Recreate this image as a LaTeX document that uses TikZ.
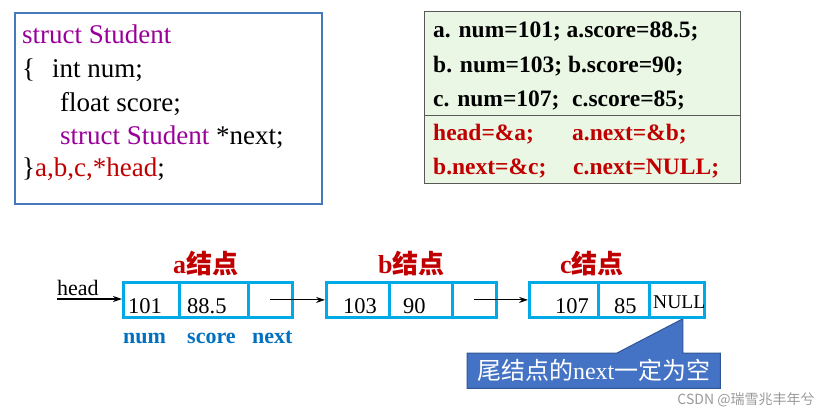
\documentclass[tikz,border=0pt]{standalone}
\usepackage{fontspec}
\setmainfont{Liberation Serif}
\newfontfamily\cjk{Noto Sans CJK SC}
\usetikzlibrary{backgrounds,arrows.meta}
\newcommand\px[1]{\fontsize{#1pt}{#1pt}\selectfont}
\definecolor{purp}{RGB}{153,0,153}
\definecolor{dred}{RGB}{192,0,0}
\definecolor{cellc}{RGB}{0,170,230}
\definecolor{lblue}{RGB}{0,112,192}
\definecolor{gfill}{RGB}{234,247,228}
\definecolor{boxblue}{RGB}{70,120,190}
\definecolor{calfill}{RGB}{68,114,196}
\definecolor{calline}{RGB}{47,85,151}
\tikzset{
  txt/.style={anchor=base west, inner sep=0pt},
  code/.style={txt, font=\px{27}},
  init/.style={txt, font=\bfseries\px{23.5}},
  cell/.style={draw=cellc, line width=2.8pt, minimum height=35pt, inner sep=0pt, anchor=north west},
  val/.style={txt, font=\px{22.5}},
  lbl/.style={txt, font=\bfseries\px{22}, text=lblue},
  ntitle/.style={txt, font=\px{26}, text=dred},
  arr/.style={-{Stealth[length=9pt,width=6pt]}, line width=1.1pt}
}
\begin{document}
\begin{tikzpicture}[x=1pt,y=-1pt]
\useasboundingbox (0,0) rectangle (832,416);
% left code box
\node[draw=boxblue, line width=1.5pt, minimum width=307pt, minimum height=191pt, anchor=north west, inner sep=0pt] (lbox) at (14,12) {};
\node[code, text=purp] (l1) at (22,43) {struct Student};
\node[code] (l2a) at (22,77) {\{};
\node[code] (l2b) at (52,77) {int num;};
\node[code] (l3) at (60,111) {float score;};
\node[code] (l4) at (60,144) {\textcolor{purp}{struct Student} *next;};
\node[code] (l5) at (22,176) {\}\textcolor{dred}{a,b,c,*head};};
% right init box
\node[draw=black!65, fill=gfill, line width=1pt, minimum width=316pt, minimum height=172pt, anchor=north west, inner sep=0pt] (rbox) at (424,11) {};
\draw[black!65, line width=1pt] ([yshift=-104pt]rbox.north west) -- ([yshift=-104pt]rbox.north east);
\node[init] (r1) at (433,37) {a. num=101; a.score=88.5;};
\node[init] (r2) at (433,72) {b. num=103; b.score=90;};
\node[init] (r3a) at (433,106) {c. num=107;};
\node[init] (r3b) at (572,106) {c.score=85;};
\node[init, text=dred] (r4a) at (433,140) {head=\&a;};
\node[init, text=dred] (r4b) at (572,140) {a.next=\&b;};
\node[init, text=dred] (r5a) at (433,174) {b.next=\&c;};
\node[init, text=dred] (r5b) at (573,174) {c.next=NULL;};
% node a
\node[cell, minimum width=56pt] (a1) at (122,281) {};
\node[cell, minimum width=69pt] (a2) at (178,281) {};
\node[cell, minimum width=44pt] (a3) at (247,281) {};
\node[val] (va1) at (128,313) {101};
\node[val] (va2) at (187,313) {88.5};
\node[ntitle] (ta) at (173,273) {\bfseries a\cjk\bfseries 结点};
\node[lbl] (ln) at (123,343) {num};
\node[lbl] (ls) at (187,343) {score};
\node[lbl] (lx) at (252,343) {next};
% node b
\node[cell, minimum width=63pt] (b1) at (325,281) {};
\node[cell, minimum width=63pt] (b2) at (388,281) {};
\node[cell, minimum width=44pt] (b3) at (451,281) {};
\node[val] (vb1) at (343,313) {103};
\node[val] (vb2) at (403,313) {90};
\node[ntitle] (tb) at (378,273) {\bfseries b\cjk\bfseries 结点};
% node c
\node[cell, minimum width=69pt] (c1) at (528,281) {};
\node[cell, minimum width=51pt] (c2) at (597,281) {};
\node[cell, minimum width=55pt] (c3) at (648,281) {};
\node[val] (vc1) at (555,313) {107};
\node[val] (vc2) at (614,313) {85};
\node[val, font=\px{19.5}] (vc3) at (653,308) {NULL};
\node[ntitle] (tc) at (560,273) {\bfseries c\cjk\bfseries 结点};
% head
\node[txt, font=\px{22}] (hd) at (57,295) {head};
\draw[arr] ([yshift=-4pt]hd.base west) -- ([yshift=-4pt]hd.base west -| a1.west);
% links
\draw[arr] (a3.center) -- (b1.west);
\draw[arr] (b3.center) -- (c1.west);
% callout
\coordinate (tip) at ([xshift=-23pt]c3.south east);
\node[anchor=north west, minimum width=253pt, minimum height=35pt, inner sep=0pt, text=white, font=\cjk\px{24}] (note) at (467,353) {尾结点的\rmfamily next\cjk 一定为空};
\begin{scope}[on background layer]
\filldraw[fill=calfill, draw=calline, line width=1pt]
  (note.north west) -- ([xshift=150pt]note.north west) -- (tip)
  -- (tip |- note.north) -- (note.north east) -- (note.south east)
  -- (note.south west) -- cycle;
\end{scope}
% watermark
\node[text=black!40, font=\cjk\px{14}] (wm) at (746,400) {CSDN @瑞雪兆丰年兮};
\end{tikzpicture}
\end{document}
